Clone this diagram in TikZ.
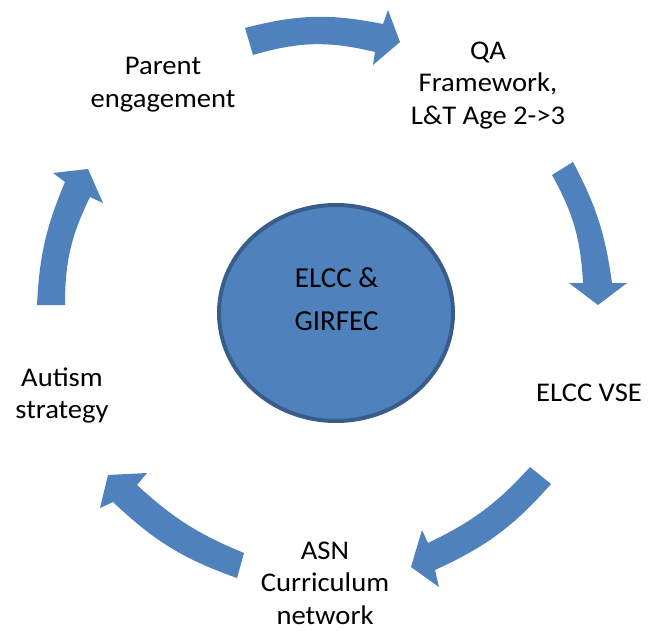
\documentclass[tikz,border=0pt]{standalone}
\usepackage{fontspec}
\setmainfont{Carlito}[FakeStretch=1.06]
\newfontfamily\hubfont{Carlito}
\usetikzlibrary{shapes.geometric}
\definecolor{blu}{HTML}{4F81BD}
\definecolor{bord}{HTML}{385D8A}
\begin{document}
\begin{tikzpicture}[x=1pt,y=-1pt,
  arr/.style={fill=blu},
  lbl/.style={font=\fontsize{27}{32.6}\selectfont, align=center, text=black, inner sep=0pt, anchor=north}]
\useasboundingbox (0,0) rectangle (648,631);
% arrows
\fill[arr] (245,28) to[bend left=13] (383,24) -- (388,10) -- (400,42) -- (373,65) -- (375,52) to[bend right=15] (253,55) -- cycle;
\fill[arr] (573,162) to[bend left=10] (612,283) -- (627,283) -- (598,305) -- (569,283) -- (583,283) to[bend right=13] (552,175) -- cycle;
\fill[arr] (530,467) to[bend left=11] (428,543) -- (422,530) -- (411,567) -- (439,587) -- (435,570) to[bend right=12] (551,484) -- cycle;
\fill[arr] (244,553) to[bend left=10] (137,485) -- (147,473) -- (108,475) -- (100,508) -- (113,502) to[bend right=12] (237,578) -- cycle;
\fill[arr] (37,305) to[bend left=10] (65,182) -- (53,173) -- (88,169) -- (103,203) -- (90,197) to[bend right=13] (65,305) -- cycle;
% centre
\node[ellipse, draw=bord, fill=blu, line width=4pt, minimum width=234pt, minimum height=216pt, inner sep=0pt] (hub) at (336,313) {};
\node[lbl, font=\hubfont\fontsize{29}{42.3}\selectfont] (hubtxt) at (336.5,267.8) {ELCC \&\\GIRFEC};
\node[lbl] (parent) at (163,56.9) {Parent\\engagement};
\node[lbl] (qa) at (488,41.6) {QA\\Framework,\\L\&T Age 2->3};
\node[lbl] (vse) at (589,383.4) {ELCC VSE};
\node[lbl] (asn) at (325,541.6) {ASN\\Curriculum\\network};
\node[lbl] (autism) at (62,367.3) {Autism\\strategy};
\end{tikzpicture}
\end{document}
